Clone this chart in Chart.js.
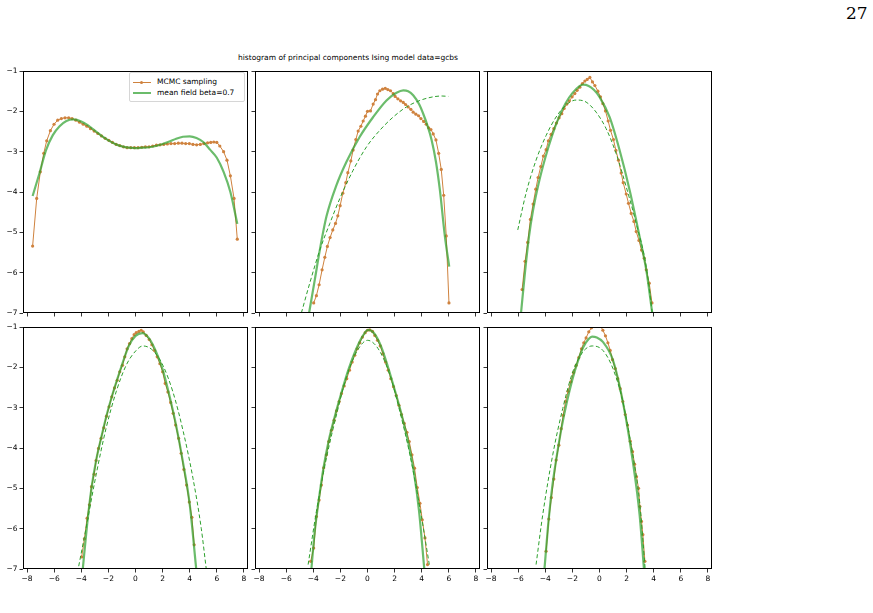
<!DOCTYPE html>
<html>
<head>
<meta charset="utf-8">
<script src="https://cdn.jsdelivr.net/npm/chart.js@4.4.1/dist/chart.umd.min.js"></script>
<style>
  body { margin: 0; background: #fff; }
  #page { position: relative; width: 873px; height: 613px; overflow: hidden; background: #fff; }
  canvas { position: absolute; }
  .txt { position: absolute; font-family: 'DejaVu Sans', sans-serif; font-size: 7.5px; color: #000; white-space: nowrap; }
  #pagenum { position: absolute; left: 846px; top: 3px; font-family: 'DejaVu Serif', serif; font-size: 17px; }
  #legend { position: absolute; left: 129px; top: 72px; width: 114px; height: 28px; border: 1px solid #d6d6d6; border-radius: 2px; background: rgba(255,255,255,0.8); }
  .lg-row { position: absolute; left: 0; height: 10px; }
  .lg-line { position: absolute; left: 3px; width: 18px; }
  .lg-text { left: 27px; top: 0; line-height: 10px; }
</style>
</head>
<body>
<div id="page">
  <div id="pagenum">27</div>
  <div class="txt" style="left:238px; top:53px;">histogram of principal components Ising model data=gcbs</div>
  <div id="legend">
    <div class="lg-row" style="top:4px;">
      <div class="lg-line" style="top:5px; height:1px; background:rgb(207,130,62);"></div>
      <div style="position:absolute; left:10px; top:4px; width:3px; height:3px; border-radius:50%; background:rgb(207,130,62);"></div>
      <div class="txt lg-text">MCMC sampling</div>
    </div>
    <div class="lg-row" style="top:15px;">
      <div class="lg-line" style="top:4px; height:2px; background:rgba(44,160,44,0.7);"></div>
      <div class="txt lg-text">mean field beta=0.7</div>
    </div>
  </div>
</div>
<script>
// ---- data: [x, log density] ----
const p1Mcmc = [[-7.59,-5.34],[-7.29,-4.16],[-7.02,-3.50],[-6.77,-3.04],[-6.55,-2.73],[-6.28,-2.48],[-6.01,-2.32],[-5.74,-2.22],[-5.47,-2.18],[-5.20,-2.16],[-4.93,-2.16],[-4.68,-2.18],[-4.40,-2.22],[-4.13,-2.27],[-3.86,-2.32],[-3.59,-2.37],[-3.32,-2.43],[-3.05,-2.49],[-2.78,-2.55],[-2.51,-2.61],[-2.24,-2.67],[-1.97,-2.72],[-1.70,-2.77],[-1.43,-2.82],[-1.16,-2.85],[-0.89,-2.88],[-0.62,-2.90],[-0.35,-2.90],[-0.08,-2.90],[0.19,-2.90],[0.46,-2.89],[0.73,-2.88],[1.00,-2.88],[1.27,-2.86],[1.54,-2.84],[1.81,-2.83],[2.08,-2.82],[2.35,-2.81],[2.62,-2.80],[2.89,-2.80],[3.16,-2.79],[3.43,-2.79],[3.70,-2.80],[3.97,-2.80],[4.24,-2.82],[4.51,-2.83],[4.78,-2.82],[5.05,-2.80],[5.32,-2.78],[5.55,-2.77],[5.78,-2.76],[6.00,-2.77],[6.22,-2.86],[6.50,-3.00],[6.75,-3.21],[7.00,-3.60],[7.27,-4.16],[7.51,-5.17]];
const p1Mf = [[-7.59,-4.10],[-7.09,-3.54],[-6.60,-2.96],[-6.10,-2.59],[-5.60,-2.37],[-5.10,-2.24],[-4.58,-2.20],[-4.00,-2.25],[-3.50,-2.35],[-3.00,-2.48],[-2.50,-2.61],[-2.00,-2.72],[-1.50,-2.81],[-1.00,-2.87],[-0.50,-2.90],[0.00,-2.91],[0.50,-2.90],[1.00,-2.89],[1.50,-2.86],[2.00,-2.81],[2.50,-2.75],[3.00,-2.68],[3.50,-2.63],[4.00,-2.62],[4.50,-2.66],[5.00,-2.76],[5.50,-2.95],[6.00,-3.15],[6.50,-3.50],[7.00,-4.00],[7.51,-4.79]];

const p2Mcmc = [[-3.97,-6.75],[-3.77,-6.57],[-3.57,-6.30],[-3.35,-5.93],[-3.15,-5.62],[-2.96,-5.35],[-2.76,-5.13],[-2.56,-4.94],[-2.36,-4.78],[-2.19,-4.59],[-2.02,-4.34],[-1.82,-4.03],[-1.60,-3.77],[-1.45,-3.52],[-1.23,-3.23],[-1.06,-2.96],[-0.86,-2.70],[-0.69,-2.49],[-0.49,-2.37],[-0.32,-2.24],[-0.15,-2.12],[0.00,-2.00],[0.22,-1.99],[0.42,-1.82],[0.59,-1.71],[0.74,-1.57],[0.91,-1.49],[1.11,-1.45],[1.31,-1.43],[1.50,-1.46],[1.70,-1.49],[1.90,-1.56],[2.04,-1.63],[2.24,-1.69],[2.44,-1.74],[2.64,-1.78],[2.81,-1.83],[3.00,-1.89],[3.20,-1.95],[3.37,-2.02],[3.57,-2.07],[3.77,-2.11],[3.94,-2.18],[4.14,-2.25],[4.33,-2.32],[4.51,-2.41],[4.68,-2.45],[4.85,-2.56],[5.05,-2.71],[5.25,-3.04],[5.44,-3.44],[5.62,-4.08],[5.81,-5.09],[6.01,-6.75]];
const p2Mf = [[-4.31,-7.00],[-3.89,-6.18],[-3.52,-5.44],[-3.03,-4.61],[-2.29,-3.83],[-1.55,-3.25],[-0.57,-2.63],[0.42,-2.14],[1.40,-1.73],[2.14,-1.54],[2.64,-1.48],[3.00,-1.50],[3.37,-1.60],[3.80,-1.82],[4.11,-2.06],[4.45,-2.38],[4.73,-2.71],[5.05,-3.25],[5.34,-3.95],[5.71,-5.10],[6.03,-5.85]];
const p2Dash = [[-4.88,-7.00],[-4.26,-6.26],[-3.52,-5.44],[-2.78,-4.78],[-2.04,-4.16],[-1.06,-3.46],[-0.07,-2.88],[0.91,-2.47],[1.90,-2.14],[2.88,-1.89],[3.87,-1.73],[4.85,-1.64],[5.50,-1.62],[5.96,-1.63]];

const p3Mcmc = [[-5.71,-6.42],[-5.49,-5.72],[-5.30,-5.25],[-5.10,-4.68],[-4.90,-4.30],[-4.70,-3.93],[-4.53,-3.64],[-4.33,-3.37],[-4.14,-3.11],[-3.94,-2.95],[-3.77,-2.73],[-3.57,-2.57],[-3.37,-2.43],[-3.18,-2.29],[-2.98,-2.16],[-2.78,-2.06],[-2.61,-1.93],[-2.41,-1.82],[-2.22,-1.74],[-2.02,-1.64],[-1.82,-1.56],[-1.65,-1.48],[-1.45,-1.40],[-1.26,-1.31],[-1.08,-1.25],[-0.91,-1.21],[-0.71,-1.16],[-0.52,-1.27],[-0.34,-1.36],[-0.12,-1.50],[0.07,-1.64],[0.25,-1.81],[0.44,-1.99],[0.64,-2.24],[0.81,-2.47],[1.03,-2.70],[1.21,-2.97],[1.40,-3.21],[1.60,-3.53],[1.75,-3.77],[1.97,-4.05],[2.14,-4.28],[2.34,-4.53],[2.54,-4.73],[2.71,-4.98],[2.91,-5.20],[3.10,-5.44],[3.30,-5.64],[3.45,-5.93],[3.67,-6.26],[3.87,-6.75]];
const p3Mf = [[-5.79,-7.00],[-5.50,-6.00],[-5.20,-5.10],[-4.90,-4.45],[-4.50,-3.80],[-4.00,-3.15],[-3.50,-2.60],[-3.00,-2.15],[-2.50,-1.80],[-2.00,-1.55],[-1.50,-1.38],[-1.20,-1.34],[-0.80,-1.37],[-0.40,-1.47],[0.00,-1.64],[0.74,-2.14],[1.48,-2.96],[2.22,-3.95],[2.96,-5.11],[3.45,-5.93],[3.89,-7.00]];
const p3Dash = [[-6.03,-4.94],[-5.42,-4.03],[-4.68,-3.21],[-3.94,-2.60],[-3.20,-2.14],[-2.46,-1.84],[-1.72,-1.72],[-0.99,-1.77],[-0.25,-2.02],[0.49,-2.43],[1.23,-3.05],[1.97,-3.87],[2.71,-4.78],[3.45,-5.85],[3.89,-7.00]];

const p4Mcmc = [[-3.97,-6.70],[-3.77,-6.25],[-3.57,-5.74],[-3.40,-5.41],[-3.25,-4.96],[-3.05,-4.65],[-2.91,-4.31],[-2.73,-4.01],[-2.54,-3.76],[-2.34,-3.50],[-2.14,-3.21],[-1.95,-2.98],[-1.75,-2.73],[-1.55,-2.51],[-1.35,-2.32],[-1.16,-2.11],[-0.96,-1.95],[-0.79,-1.74],[-0.62,-1.54],[-0.44,-1.41],[-0.27,-1.29],[-0.10,-1.19],[0.05,-1.14],[0.25,-1.11],[0.42,-1.08],[0.57,-1.12],[0.79,-1.21],[1.01,-1.31],[1.21,-1.44],[1.40,-1.58],[1.60,-1.74],[1.80,-1.91],[2.00,-2.11],[2.19,-2.40],[2.39,-2.61],[2.59,-2.87],[2.78,-3.14],[2.96,-3.43],[3.18,-3.76],[3.37,-4.13],[3.57,-4.53],[3.77,-4.92],[3.97,-5.34],[4.16,-5.72],[4.33,-6.40]];
const p4Mf = [[-3.89,-7.00],[-3.57,-5.90],[-3.25,-5.00],[-2.90,-4.30],[-2.54,-3.76],[-2.14,-3.20],[-1.75,-2.73],[-1.35,-2.30],[-0.96,-1.90],[-0.50,-1.47],[0.00,-1.22],[0.50,-1.15],[1.00,-1.28],[1.50,-1.60],[2.00,-2.05],[2.50,-2.70],[3.00,-3.45],[3.50,-4.35],[4.00,-5.40],[4.48,-7.00]];
const p4Dash = [[-4.19,-6.93],[-3.65,-5.99],[-2.91,-4.67],[-2.17,-3.51],[-1.43,-2.61],[-0.69,-1.95],[0.05,-1.58],[0.54,-1.47],[1.28,-1.58],[2.02,-1.95],[2.76,-2.61],[3.50,-3.56],[4.24,-4.75],[4.85,-5.99],[5.22,-7.00]];

const p5Mcmc = [[-4.19,-6.81],[-3.97,-6.48],[-3.77,-5.70],[-3.57,-5.29],[-3.40,-4.92],[-3.23,-4.49],[-3.03,-4.17],[-2.86,-3.84],[-2.66,-3.56],[-2.46,-3.31],[-2.29,-3.08],[-2.09,-2.85],[-1.92,-2.65],[-1.72,-2.46],[-1.53,-2.28],[-1.33,-2.07],[-1.13,-1.87],[-0.94,-1.70],[-0.76,-1.54],[-0.57,-1.39],[-0.37,-1.25],[-0.17,-1.14],[0.00,-1.08],[0.17,-1.07],[0.37,-1.11],[0.54,-1.21],[0.74,-1.33],[0.94,-1.47],[1.13,-1.66],[1.33,-1.87],[1.53,-2.07],[1.72,-2.28],[1.92,-2.48],[2.12,-2.70],[2.32,-2.94],[2.51,-3.17],[2.71,-3.39],[2.91,-3.61],[3.08,-3.84],[3.28,-4.17],[3.47,-4.50],[3.67,-4.98],[3.87,-5.37],[4.04,-5.78],[4.24,-6.23],[4.43,-6.89]];
const p5Mf = [[-4.14,-7.00],[-3.90,-6.10],[-3.60,-5.30],[-3.25,-4.50],[-2.85,-3.80],[-2.40,-3.20],[-1.90,-2.60],[-1.40,-2.05],[-0.90,-1.60],[-0.40,-1.25],[0.05,-1.07],[0.50,-1.16],[1.00,-1.48],[1.50,-1.98],[2.00,-2.55],[2.50,-3.15],[3.00,-3.85],[3.40,-4.55],[3.80,-5.55],[4.19,-7.00]];
const p5Dash = [[-4.38,-6.89],[-3.77,-5.57],[-3.03,-4.25],[-2.29,-3.18],[-1.55,-2.24],[-0.81,-1.62],[0.00,-1.33],[0.79,-1.54],[1.65,-2.19],[2.39,-3.10],[3.13,-4.17],[3.87,-5.49],[4.56,-6.89]];

const p6Mcmc = [[-3.94,-6.56],[-3.74,-5.76],[-3.55,-5.23],[-3.37,-4.77],[-3.20,-4.30],[-3.00,-3.93],[-2.83,-3.52],[-2.68,-3.19],[-2.51,-2.85],[-2.32,-2.59],[-2.12,-2.36],[-1.92,-2.13],[-1.72,-1.95],[-1.53,-1.76],[-1.33,-1.54],[-1.16,-1.39],[-0.99,-1.27],[-0.79,-1.12],[-0.59,-1.02],[-0.30,-0.95],[-0.12,-0.94],[0.05,-0.96],[0.25,-1.08],[0.44,-1.22],[0.62,-1.39],[0.79,-1.58],[0.96,-1.81],[1.16,-2.03],[1.35,-2.28],[1.53,-2.53],[1.72,-2.85],[1.90,-3.17],[2.07,-3.43],[2.27,-3.83],[2.44,-4.09],[2.59,-4.40],[2.73,-4.71],[2.88,-5.00],[2.98,-5.45],[3.10,-5.82],[3.20,-6.15],[3.35,-6.81]];
const p6Mf = [[-4.06,-7.00],[-3.80,-5.95],[-3.50,-5.00],[-3.20,-4.30],[-2.80,-3.50],[-2.40,-2.85],[-2.00,-2.30],[-1.60,-1.85],[-1.20,-1.50],[-0.80,-1.30],[-0.55,-1.24],[-0.20,-1.26],[0.25,-1.37],[0.99,-1.82],[1.72,-2.85],[2.46,-4.34],[2.96,-5.66],[3.28,-7.00]];
const p6Dash = [[-4.68,-6.89],[-4.19,-5.66],[-3.45,-4.17],[-2.71,-3.02],[-1.97,-2.11],[-1.23,-1.62],[-0.54,-1.47],[0.25,-1.58],[0.99,-2.03],[1.72,-2.85],[2.46,-4.17],[2.96,-5.33],[3.37,-7.00]];

const xTicks = [-8, -6, -4, -2, 0, 2, 4, 6, 8];
const yTicks = [-7, -6, -5, -4, -3, -2, -1];

const panels = [
  {mcmc: p1Mcmc, mf: p1Mf, dash: null},
  {mcmc: p2Mcmc, mf: p2Mf, dash: p2Dash},
  {mcmc: p3Mcmc, mf: p3Mf, dash: p3Dash},
  {mcmc: p4Mcmc, mf: p4Mf, dash: p4Dash},
  {mcmc: p5Mcmc, mf: p5Mf, dash: p5Dash},
  {mcmc: p6Mcmc, mf: p6Mf, dash: p6Dash},
];

// layout of the 2x3 grid (plot area in page pixels)
const COL_X = [23, 255, 487];
const ROW_Y = [71, 327];
const PW = 225, PH = 242;
const PAD_L = 30, PAD_T = 8, PAD_R = 8, PAD_B = 24;

const ORANGE = 'rgb(207,130,62)';
const GREEN_SOLID = 'rgba(44,160,44,0.7)';
const GREEN_DASH = 'rgb(44,160,44)';
const FONT = {family: "'DejaVu Sans', sans-serif", size: 7.5};

const toXY = arr => arr.map(p => ({x: p[0], y: p[1]}));
const minus = v => String(v).replace('-', '\u2212');

// frame around the plot area, like matplotlib spines
const framePlugin = {
  id: 'frame',
  afterDraw: chart => {
    const {ctx, chartArea: a} = chart;
    ctx.save();
    ctx.strokeStyle = '#000';
    ctx.lineWidth = 1;
    ctx.strokeRect(Math.round(a.left) + 0.5, Math.round(a.top) + 0.5,
                   Math.round(a.right - a.left) - 1, Math.round(a.bottom - a.top) - 1);
    ctx.restore();
  }
};

const page = document.getElementById('page');

panels.forEach((p, i) => {
  const col = i % 3, row = Math.floor(i / 3);
  const canvas = document.createElement('canvas');
  canvas.width = PW + PAD_L + PAD_R;
  canvas.height = PH + PAD_T + PAD_B;
  canvas.style.left = (COL_X[col] - PAD_L) + 'px';
  canvas.style.top = (ROW_Y[row] - PAD_T) + 'px';
  page.appendChild(canvas);

  const datasets = [
    {data: toXY(p.mf), borderColor: GREEN_SOLID, borderWidth: 2.2, pointRadius: 0,
     cubicInterpolationMode: 'monotone', order: 0},
    {data: toXY(p.mcmc), borderColor: ORANGE, borderWidth: 1, pointRadius: 1.6,
     pointBackgroundColor: ORANGE, pointBorderWidth: 0, order: 2},
  ];
  if (p.dash) {
    datasets.push({data: toXY(p.dash), borderColor: GREEN_DASH, borderWidth: 1, borderDash: [4, 2.5],
                   pointRadius: 0, cubicInterpolationMode: 'monotone', order: 1});
  }

  new Chart(canvas.getContext('2d'), {
    type: 'line',
    data: {datasets},
    options: {
      responsive: false,
      animation: false,
      layout: {padding: {top: PAD_T, right: PAD_R, left: 0, bottom: 0}},
      plugins: {legend: {display: false}, tooltip: {enabled: false}},
      scales: {
        x: {
          type: 'linear', min: -8.3, max: 8.3,
          afterBuildTicks: s => { s.ticks = xTicks.map(v => ({value: v})); },
          afterFit: s => { s.height = PAD_B; },
          ticks: {display: row === 1, font: FONT, color: '#000', padding: 2, maxRotation: 0,
                  callback: v => minus(v)},
          grid: {drawOnChartArea: false, drawTicks: true, tickLength: 3.5, color: '#000', lineWidth: 0.8},
          border: {display: false}
        },
        y: {
          type: 'linear', min: -7, max: -1,
          afterBuildTicks: s => { s.ticks = yTicks.map(v => ({value: v})); },
          afterFit: s => { s.width = PAD_L; },
          ticks: {display: col === 0, font: FONT, color: '#000', padding: 2,
                  callback: v => minus(v)},
          grid: {drawOnChartArea: false, drawTicks: true, tickLength: 3.5, color: '#000', lineWidth: 0.8},
          border: {display: false}
        }
      }
    },
    plugins: [framePlugin]
  });
});
</script>
</body>
</html>
